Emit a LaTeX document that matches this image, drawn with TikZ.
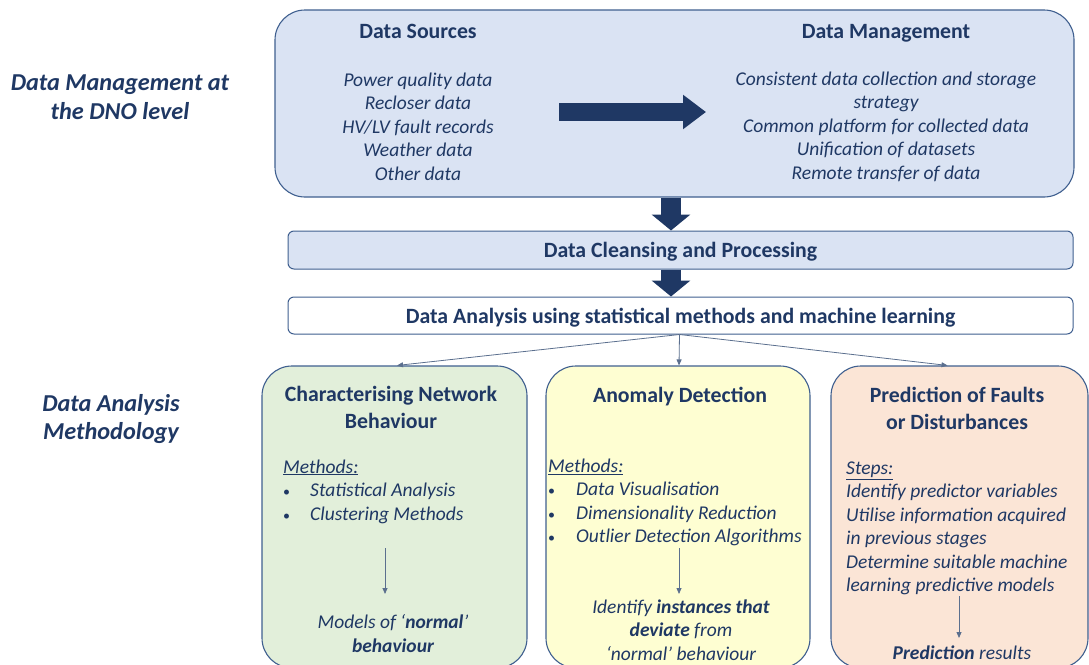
\documentclass[tikz,border=0pt]{standalone}
\usepackage{fontspec}
\setmainfont{Carlito}
\usetikzlibrary{arrows.meta}
\definecolor{navy}{HTML}{1F3864}
\definecolor{edgeblue}{HTML}{3F5F8F}
\definecolor{paleblue}{HTML}{DAE3F3}
\definecolor{palegreen}{HTML}{E2EFDA}
\definecolor{paleyellow}{HTML}{FEFED2}
\definecolor{palepeach}{HTML}{FBE5D6}
\definecolor{thinline}{HTML}{5B6F8E}
\newcommand{\dotitem}[1]{\makebox[#1][l]{\upshape\fontsize{14}{14}\selectfont\textbullet}}

\begin{document}
\begin{tikzpicture}[x=1pt,y=-1pt,
  panel/.style={draw=edgeblue, line width=1.1pt, rounded corners=30pt, inner sep=0pt},
  bar/.style={draw=edgeblue, line width=1pt, rounded corners=6pt, inner sep=0pt},
  head/.style={text=navy, font=\bfseries\fontsize{21.8}{27}\selectfont, align=center, inner sep=0pt},
  body/.style={text=navy, font=\itshape\fontsize{19.5}{23.5}\selectfont, align=center, inner sep=0pt},
  listing/.style={text=navy, font=\itshape\fontsize{19.5}{23.5}\selectfont, align=left, inner sep=0pt, anchor=west},
  side/.style={text=navy, font=\bfseries\itshape\fontsize{24.3}{28.5}\selectfont, align=center, inner sep=0pt},
  blockarrow/.style={draw=navy, line width=#1},
  thin/.style={draw=thinline, line width=0.8pt, -{Triangle[length=6pt,width=5pt]}},
]
\useasboundingbox (0,0) rectangle (1089,664);
\begin{scope}
\clip (0,0) rectangle (1089,664);

% side captions
\node[side] (capdm) at (120,97) {Data Management at\\the DNO level};
\node[side] (capda) at (111,419) {Data Analysis\\Methodology};

% data management panel
\node[panel, fill=paleblue, minimum width=799pt, minimum height=187pt] (top) at (674.5,103.5) {};
\node[head, anchor=base] (srchead) at (418,38.5) {Data Sources};
\node[head, anchor=base] (mgmthead) at (886,38.5) {Data Management};
\node[body] (srclist) at (418,126.5) {Power quality data\\Recloser data\\HV/LV fault records\\Weather data\\Other data};
\node[body] (mgmtlist) at (886,126.5) {Consistent data collection and storage\\strategy\\Common platform for collected data\\Unification of datasets\\Remote transfer of data};
\coordinate (flowA) at (559,112);
\coordinate (flowB) at (706,112);
\draw[blockarrow=18pt, -{Triangle[length=23pt,width=33pt]}] (flowA) -- (flowB);

% processing bars
\node[bar, fill=paleblue, minimum width=785pt, minimum height=38pt] (clean) at (680.5,250) {};
\node[head, anchor=base] (cleantxt) at ([yshift=-7.5pt]clean.center) {Data Cleansing and Processing};
\node[bar, fill=white, minimum width=785pt, minimum height=37pt] (anal) at (680.5,315.5) {};
\node[head, anchor=base] (analtxt) at ([yshift=-7.5pt]anal.center) {Data Analysis using statistical methods and machine learning};

\draw[blockarrow=20pt, -{Triangle[length=16pt,width=38pt]}] ([xshift=-3.5pt]top.south) -- ([xshift=-9.5pt]clean.north);
\draw[blockarrow=20pt, -{Triangle[length=16pt,width=38pt]}] ([xshift=-9.5pt]clean.south) -- ([xshift=-9.5pt]anal.north);

% three methodology panels
\node[panel, fill=palegreen, minimum width=265pt, minimum height=302pt] (green) at (394.5,517) {};
\node[panel, fill=paleyellow, minimum width=264pt, minimum height=302pt] (yellow) at (678,517) {};
\node[panel, fill=palepeach, minimum width=257pt, minimum height=302pt] (peach) at (959.5,517) {};

\draw[thin] ([xshift=-1pt]anal.south) -- ([xshift=2.5pt]green.north);
\draw[thin] ([xshift=-1pt]anal.south) -- ([xshift=1pt]yellow.north);
\draw[thin] ([xshift=-1pt]anal.south) -- ([xshift=-12pt]peach.north);

% characterising network behaviour
\node[head] (ghead) at (391,407) {Characterising Network\\Behaviour};
\node[listing] (glist) at (283,491.5) {\underline{Methods:}\\\dotitem{27pt}Statistical Analysis\\\dotitem{27pt}Clustering Methods};
\coordinate (gA) at (385,548);
\coordinate (gB) at (385,594);
\node[body] (gout) at (393,633.5) {Models of ‘\textbf{normal}’\\\textbf{behaviour}};
\draw[thin] (gA) -- (gB);

% anomaly detection
\node[head, anchor=base] (yhead) at (680,402) {Anomaly Detection};
\node[listing] (ylist) at (548,502.5) {\underline{Methods:}\\\dotitem{28pt}Data Visualisation\\\dotitem{28pt}Dimensionality Reduction\\\dotitem{28pt}Outlier Detection Algorithms};
\coordinate (yA) at (679,548);
\coordinate (yB) at (679,594);
\node[body] (yout) at (681,630) {Identify \textbf{instances that}\\\textbf{deviate} from\\‘normal’ behaviour};
\draw[thin] (yA) -- (yB);

% prediction of faults
\node[head] (phead) at (957,408) {Prediction of Faults\\or Disturbances};
\node[listing] (plist) at (846,528.5) {\underline{Steps:}\\Identify predictor variables\\Utilise information acquired\\in previous stages\\Determine suitable machine\\learning predictive models};
\coordinate (pA) at (959,596);
\coordinate (pB) at (959,638);
\node[body] (pout) at (962,653) {\textbf{Prediction} results};
\draw[thin] (pA) -- (pB);
\end{scope}
\end{tikzpicture}
\end{document}
